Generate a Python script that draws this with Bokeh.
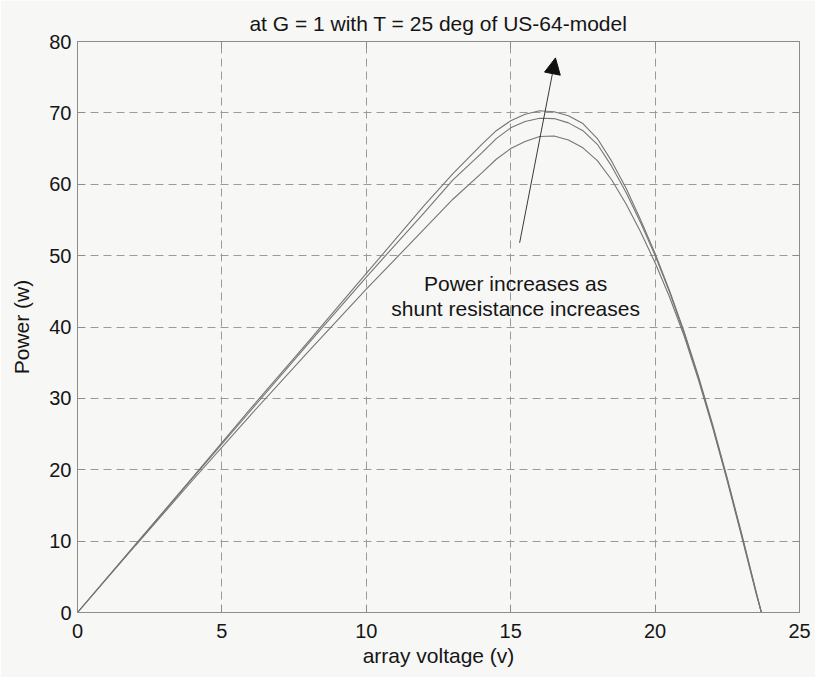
from bokeh.plotting import figure
from bokeh.models import (LinearAxis, Range1d, Arrow, NormalHead, Label, FixedTicker,
                          CustomJSTickFormatter)
from bokeh.embed import file_html
from bokeh.resources import INLINE

# ---- data ----
voltage = [0, 2, 4, 6, 8, 10, 12, 13, 14, 14.5, 15, 15.5, 16, 16.5, 17, 17.5, 18, 18.5,
           19, 19.5, 20, 20.5, 21, 21.5, 22, 22.5, 23, 23.5, 23.68]
power_high = [0, 9.5, 19.0, 28.6, 38.0, 47.5, 57.0, 61.5, 65.6, 67.5, 68.9, 69.8, 70.3,
              70.15, 69.6, 68.5, 66.4, 63.2, 59.4, 55.0, 50.3, 45.1, 39.4, 33.1, 26.2,
              18.8, 11.0, 2.9, 0]
power_mid = [0, 9.45, 18.9, 28.3, 37.7, 47.0, 56.0, 60.6, 64.4, 66.4, 67.9, 68.8, 69.25,
             69.2, 68.6, 67.5, 65.6, 62.5, 58.8, 54.6, 50.0, 44.9, 39.2, 32.9, 26.0,
             18.6, 10.8, 2.8, 0]
power_low = [0, 9.35, 18.6, 27.7, 36.6, 45.3, 53.7, 57.9, 61.6, 63.5, 65.0, 66.0, 66.7,
             66.75, 66.2, 65.1, 63.3, 60.6, 57.2, 53.3, 49.0, 44.2, 38.8, 32.6, 25.8,
             18.4, 10.6, 2.6, 0]
x_ticks = [0, 5, 10, 15, 20, 25]
y_ticks = [0, 10, 20, 30, 40, 50, 60, 70, 80]

title_text = "at G = 1 with T = 25 deg of US-64-model"
x_label = "array voltage (v)"
y_label = "Power (w)"
note_lines = ["Power increases as", "shunt resistance increases"]

FONT = "Liberation Sans"
BG = "#f7f7f6"
AX = "#8c8c8c"
TXT = "#151515"

p = figure(width=815, height=677, output_backend="svg", toolbar_location=None,
           x_range=Range1d(0, 25), y_range=Range1d(0, 80),
           min_border_left=77, min_border_right=16, min_border_top=41,
           min_border_bottom=65, background_fill_color=BG, border_fill_color=BG)

p.title.text = title_text
p.title.align = "center"
p.title.vertical_align = "top"
p.title.text_font = FONT
p.title.text_font_size = "21px"
p.title.text_font_style = "normal"
p.title.text_color = TXT

p.outline_line_color = AX
p.outline_line_width = 1

for ax in (p.xaxis[0], p.yaxis[0]):
    ax.major_label_text_font = FONT
    ax.major_label_text_font_size = "20px"
    ax.major_label_text_color = TXT
    ax.axis_label_text_font = FONT
    ax.axis_label_text_font_size = "21px"
    ax.axis_label_text_font_style = "normal"
    ax.axis_label_text_color = TXT
    ax.axis_line_color = AX
    ax.major_tick_line_color = AX
    ax.major_tick_in = 7
    ax.major_tick_out = 0
    ax.minor_tick_line_color = None

p.xaxis[0].ticker = FixedTicker(ticks=x_ticks)
p.yaxis[0].ticker = FixedTicker(ticks=y_ticks)
p.xaxis[0].axis_label = x_label
p.yaxis[0].axis_label = y_label
p.xaxis[0].major_label_standoff = 11
p.xaxis[0].axis_label_standoff = 3
p.yaxis[0].major_label_standoff = 6
p.yaxis[0].axis_label_standoff = 13

blank = CustomJSTickFormatter(code="return ''")
for loc, tick in (("above", x_ticks), ("right", y_ticks)):
    a = LinearAxis(ticker=FixedTicker(ticks=tick), axis_line_color=AX,
                   major_tick_line_color=AX, major_tick_in=7, major_tick_out=0,
                   minor_tick_line_color=None, formatter=blank,
                   major_label_standoff=0)
    p.add_layout(a, loc)

p.xgrid.ticker = FixedTicker(ticks=x_ticks)
p.ygrid.ticker = FixedTicker(ticks=y_ticks)
for g in (p.xgrid[0], p.ygrid[0]):
    g.grid_line_color = "#9a9a9a"
    g.grid_line_dash = "8 5"
    g.grid_line_width = 1

for series in (power_high, power_mid, power_low):
    p.line(voltage, series, line_color="#757575", line_width=1.1)

# annotation arrow and text
arrow_start = (15.31, 51.8)
arrow_end = (16.55, 77.7)
p.add_layout(Arrow(end=NormalHead(size=16, fill_color="#111111", line_color="#111111"),
                   x_start=arrow_start[0], y_start=arrow_start[1],
                   x_end=arrow_end[0], y_end=arrow_end[1],
                   line_color="#222222", line_width=0.9))

note_x = 15.17
note_y = [46.1, 42.6]
for txt, yy in zip(note_lines, note_y):
    p.add_layout(Label(x=note_x, y=yy, text=txt, text_align="center",
                       text_baseline="middle", text_font=FONT,
                       text_font_size="21px", text_color=TXT))

open("out.html", "w").write(file_html(p, INLINE))
